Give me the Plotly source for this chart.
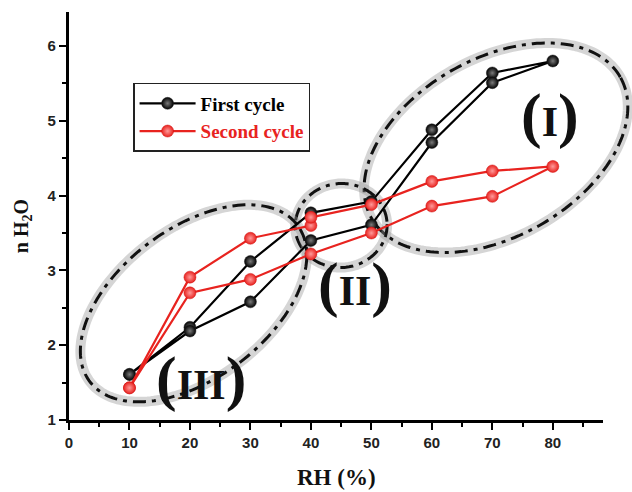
import numpy as np
import plotly.graph_objects as go

# ---- data ----
rh_first = [10, 20, 30, 40, 50, 60, 70, 80, 70, 60, 50, 40, 30, 20, 10]
n_first = [1.61, 2.24, 3.12, 3.77, 3.92, 4.88, 5.64, 5.80, 5.51, 4.71, 3.61, 3.40, 2.58, 2.19, 1.61]
rh_second = [10, 20, 30, 40, 40, 50, 60, 70, 80, 70, 60, 50, 40, 30, 20, 10]
n_second = [1.43, 2.91, 3.43, 3.60, 3.71, 3.88, 4.19, 4.33, 4.39, 3.99, 3.86, 3.50, 3.22, 2.88, 2.70, 1.43]
x_ticks = [0, 10, 20, 30, 40, 50, 60, 70, 80]
y_ticks = [1, 2, 3, 4, 5, 6]
region_labels = ["(I)", "(II)", "(III)"]

# ---- layout geometry ----
W, H = 632, 492
ML, MR, MT, MB = 69, 29, 12, 72
XR = [0, 88.3]
YR = [1, 6.455]
pw, ph = W - ML - MR, H - MT - MB
sx = pw / (XR[1] - XR[0])   # px per x unit
sy = ph / (YR[1] - YR[0])   # px per y unit

fig = go.Figure()

# ellipses: centre in data units, semi-axes in px, tilt in degrees
ellipses = [
    dict(cx=70.6, cy=4.64, a=143, b=89, ang=29.6),
    dict(cx=45.0, cy=3.60, a=46, b=42, ang=5),
    dict(cx=20.6, cy=2.56, a=130, b=75, ang=37),
]
t = np.linspace(0, 2 * np.pi, 200)
shapes = []
for e in ellipses:
    th = np.radians(e["ang"])
    dxp = e["a"] * np.cos(t) * np.cos(th) - e["b"] * np.sin(t) * np.sin(th)
    dyp = e["a"] * np.cos(t) * np.sin(th) + e["b"] * np.sin(t) * np.cos(th)
    # convert to paper coordinates so the outline is not clipped by the plot area
    cxp = (e["cx"] - XR[0]) * sx
    cyp = (e["cy"] - YR[0]) * sy
    px = (cxp + dxp) / pw
    py = (cyp + dyp) / ph
    path = "M " + " L ".join(f"{a:.4f},{b:.4f}" for a, b in zip(px, py)) + " Z"
    shapes.append(dict(type="path", path=path, xref="paper", yref="paper", layer="below",
                       line=dict(color="rgba(150,150,150,0.4)", width=10)))
    shapes.append(dict(type="path", path=path, xref="paper", yref="paper", layer="below",
                       line=dict(color="#111", width=3, dash="13px,6px,4px,6px")))

fig.add_trace(go.Scatter(
    x=rh_first, y=n_first, mode="lines+markers",
    name="<b>First cycle</b>",
    line=dict(color="black", width=2.2),
    marker=dict(size=12, color="black", line=dict(color="#222", width=0.5),
                gradient=dict(type="radial", color="#7a7a7a")),
))
fig.add_trace(go.Scatter(
    x=rh_second, y=n_second, mode="lines+markers",
    name="<b><span style='color:#e8231f'>Second cycle</span></b>",
    line=dict(color="#e8231f", width=2.2),
    marker=dict(size=12, color="#e8231f", line=dict(color="#d01010", width=0.5),
                gradient=dict(type="radial", color="#ff9a9a")),
))

label_pos = [(79.6, 5.07), (47.3, 2.81), (21.8, 1.56)]
for txt, (lx, ly) in zip(region_labels, label_pos):
    inner = txt[1:-1]
    fig.add_annotation(
        x=lx, y=ly, xref="x", yref="y", showarrow=False,
        text="<span style='font-size:62px'>(</span>" + inner + "<span style='font-size:62px'>)</span>",
        font=dict(family="Liberation Serif", size=42, color="#111", weight="bold"),
    )

# axis titles
fig.add_annotation(x=0.5, y=-0.105, xref="paper", yref="paper", showarrow=False,
                   xanchor="center", yanchor="top",
                   text="<b>RH (%)</b>",
                   font=dict(family="Liberation Serif", size=23, color="#111"))
fig.add_annotation(x=-0.088, y=0.475, xref="paper", yref="paper", showarrow=False,
                   xanchor="center", yanchor="middle", textangle=-90,
                   text="<b>n H<sub>2</sub>O</b>",
                   font=dict(family="Liberation Serif", size=20, color="#111"))

axis_common = dict(
    showline=True, linecolor="black", linewidth=3.2, mirror=False,
    ticks="outside", ticklen=7, tickwidth=2, tickcolor="black",
    showgrid=False, zeroline=False,
    tickfont=dict(family="Liberation Sans", size=15, color="#222", weight="bold"),
)
fig.update_xaxes(range=XR, tickvals=x_ticks, ticktext=[str(v) for v in x_ticks],
                 minor=dict(dtick=5, tick0=0, ticks="outside", ticklen=4, tickwidth=2, tickcolor="black"),
                 **axis_common)
fig.update_yaxes(range=YR, tickvals=y_ticks, ticktext=[str(v) for v in y_ticks],
                 minor=dict(dtick=0.5, tick0=1, ticks="outside", ticklen=4, tickwidth=2, tickcolor="black"),
                 **axis_common)

fig.update_layout(
    width=W, height=H,
    margin=dict(l=ML, r=MR, t=MT, b=MB, pad=0),
    plot_bgcolor="white", paper_bgcolor="white",
    shapes=shapes,
    legend=dict(x=0.12, y=0.826, xanchor="left", yanchor="top",
                bgcolor="white", bordercolor="#222", borderwidth=1.5,
                font=dict(family="Liberation Serif", size=19, color="black"),
                tracegroupgap=0, itemwidth=56),
    showlegend=True,
)

fig.write_html("out.html", config={"displayModeBar": False},
               post_script="document.body.style.margin='0';")
